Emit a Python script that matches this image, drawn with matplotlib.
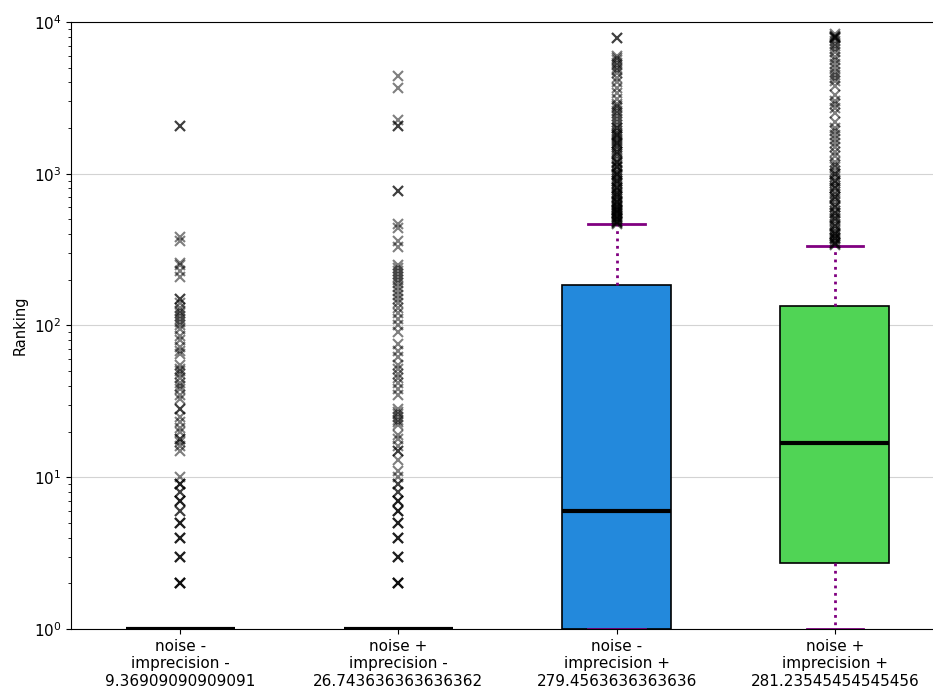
import matplotlib
matplotlib.use("Agg")
import matplotlib.pyplot as plt

labels = ["noise -\nimprecision -\n9.36909090909091",
          "noise +\nimprecision -\n26.743636363636362",
          "noise -\nimprecision +\n279.4563636363636",
          "noise +\nimprecision +\n281.23545454545456"]
medians = [1, 1, 6.0, 16.8]
q1s = [1, 1, 1, 2.72]
q3s = [1, 1, 185, 134]
whislo = [1, 1, 1, 1]
whishi = [1, 1, 467, 334]
box_colors = ["white", "white", "#2389DC", "#50D455"]

fliers1 = [2, 2, 2, 2, 3, 3, 3, 4, 4, 4, 5, 5, 5, 6, 6, 7, 7, 7, 8, 8, 9, 9, 9,
           10, 15, 16, 17, 18, 18,
           20, 21, 23, 25, 28, 28, 33, 35, 38, 40, 42, 45, 48, 50, 52, 55, 65,
           68, 72, 80, 85, 95, 100, 105, 110, 115, 120, 125, 130, 140, 150, 150,
           210, 230, 250, 260, 360, 385, 2050, 2050]
fliers2 = [2, 2, 2, 2, 3, 3, 3, 4, 4, 4, 5, 5, 5, 6, 6, 6, 7, 7, 7, 8, 8, 9, 9,
           10, 11, 13, 15, 15, 16, 18, 19,
           22, 23, 24, 25, 26, 27, 28, 35, 38, 42, 45, 48, 52, 55, 62, 68, 75,
           90, 100, 110, 120, 130, 140, 150, 160, 170, 180, 190, 200, 210, 220,
           230, 240, 250, 330, 360, 440, 470, 770, 770, 2050, 2050, 2250, 3700, 4400]
fliers3 = [470, 475, 480, 490, 500, 510, 520, 530, 540, 550, 560, 570, 580, 590,
           600, 610, 620, 640, 650, 660, 680, 700, 720, 740, 760, 780, 800, 820,
           850, 870, 900, 920, 950, 980, 1000, 1030, 1060, 1100, 1130, 1170, 1200,
           1250, 1300, 1350, 1400, 1450, 1500, 1550, 1600, 1650, 1700, 1750, 1800,
           1850, 1900, 2000, 2100, 2200, 2300, 2400, 2500, 2600, 2700, 2800, 2900,
           3100, 3400, 3700, 4000, 4300, 4600, 4800, 5000, 5200, 5400, 5600, 5800,
           6000, 7900, 7900,
           480, 500, 520, 550, 580, 600, 650, 700, 750, 800, 900, 1000, 1100, 1200,
           1400, 1600, 1800, 2000]
fliers4 = [340, 345, 350, 360, 370, 380, 390, 400, 410, 420, 430, 450, 470, 490,
           510, 530, 550, 570, 600, 620, 650, 680, 700, 730, 760, 800, 830, 870,
           900, 950, 1000, 1050, 1100, 1150, 1200, 1300, 1400, 1500, 1600, 1700,
           1800, 1900, 2000, 2200, 2500, 2700, 2900, 3000, 3300, 3800, 4100, 4300,
           4500, 4700, 5000, 5300, 5600, 5900, 6300, 6600, 6900, 7200, 7500, 7800,
           8000, 8100, 8300,
           350, 380, 400, 450, 500, 550, 600, 700, 800, 900, 1000, 7800, 8000]
fliers = [fliers1, fliers2, fliers3, fliers4]

stats = []
for i in range(4):
    stats.append(dict(med=medians[i], q1=q1s[i], q3=q3s[i], whislo=whislo[i],
                      whishi=whishi[i], fliers=fliers[i], label=labels[i]))

fig = plt.figure(figsize=(9.33, 6.89), dpi=100)
ax = fig.add_axes([71 / 933, 60 / 689, 873 / 933, 607 / 689])
bp = ax.bxp(stats, positions=[1, 2, 3, 4], widths=0.5, patch_artist=True,
            capwidths=0.26,
            boxprops=dict(edgecolor="black", linewidth=1.2),
            medianprops=dict(color="black", linewidth=3),
            whiskerprops=dict(color="purple", linewidth=2, linestyle=":"),
            capprops=dict(color="purple", linewidth=2),
            flierprops=dict(marker="x", markeredgecolor="black", markersize=7,
                            markeredgewidth=1.5, alpha=0.5, linestyle="none"))
for patch, c in zip(bp["boxes"], box_colors):
    patch.set_facecolor(c)

ax.set_yscale("log")
ax.set_ylim(1, 1e4)
ax.set_xlim(0.5, 4.5)
ax.yaxis.grid(True, color="#d3d3d3", linewidth=0.8)
ax.set_axisbelow(True)
ax.set_ylabel("Ranking", fontsize=10.5)
ax.tick_params(axis="both", labelsize=11)
ax.spines["right"].set_visible(False)

fig.savefig("out.png", dpi=100)
